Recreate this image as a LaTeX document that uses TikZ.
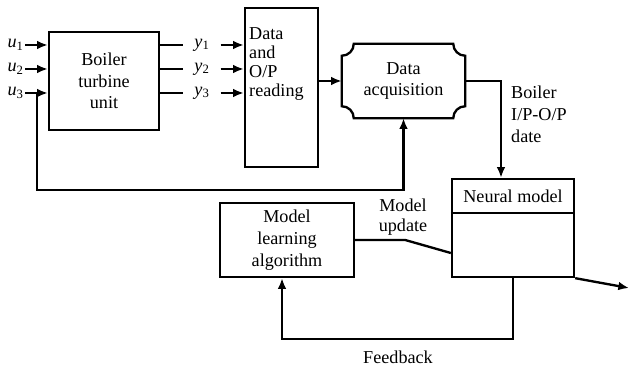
\documentclass[tikz,border=0pt]{standalone}
\usepackage{fontspec}
\setmainfont{Liberation Serif}
\usetikzlibrary{arrows.meta,positioning,calc}

\begin{document}
\begin{tikzpicture}[x=0.3mm,y=0.3mm,
        font=\fontsize{15.5}{18.5}\selectfont,
        >={Latex[length=3.2mm,width=2.6mm]},
        linea/.style={line width=2pt},
        caja/.style={draw,line width=2pt,rectangle,inner sep=0pt,align=center}]
        \useasboundingbox (0,0) rectangle (630,369);

        % bloques
        \node[caja,minimum width=33mm,minimum height=29.4mm] (btu) at (104,288) {Boiler\\turbine\\unit};
        \node[caja,minimum width=21.9mm,minimum height=47.7mm] (dor) at (281.5,281.5) {};
        \node[anchor=north west,align=left,inner sep=0pt,font=\fontsize{15.5}{16.3}\selectfont] (dort) at (249,342) {Data\\and\\O/P\\reading};
        \node[align=center,inner sep=0pt,minimum width=36.9mm,minimum height=22.2mm] (daq) at (403.5,288) {Data\\acquisition};
        \node[caja,minimum width=36.6mm,minimum height=29.4mm] (nm) at (513,141) {};
        \node (nmt) at (513,172.5) {Neural model};
        \node[caja,minimum width=40.2mm,minimum height=22.2mm] (mla) at (287,129) {Model\\learning\\algorithm};

        % contorno con esquinas concavas
        \draw[linea] ($(daq.north west)+(0,-12)$) arc[start angle=270,end angle=360,radius=3.6mm]
            -- ($(daq.north east)+(-12,0)$) arc[start angle=180,end angle=270,radius=3.6mm]
            -- ($(daq.south east)+(0,12)$) arc[start angle=90,end angle=180,radius=3.6mm]
            -- ($(daq.south west)+(12,0)$) arc[start angle=0,end angle=90,radius=3.6mm] -- cycle;
        % division
        \draw[linea] ($(nm.north west)+(0,-35)$) -- ($(nm.north east)+(0,-35)$);

        % entradas y salidas
        \foreach \i/\yy in {1/324,2/300,3/276}{
            \node[anchor=east,inner sep=1pt] (u\i) at (25,\yy) {\textit{u}\textsubscript{\i}};
            \draw[linea,->] (u\i.east) -- (u\i.east -| btu.west);
            \node[inner sep=0pt,minimum width=11.1mm] (y\i) at (202,\yy) {\textit{y}\textsubscript{\i}};
            \draw[linea] (btu.east |- y\i) -- (y\i.west);
            \draw[linea,->] (y\i.east) -- (y\i.east -| dor.west);
        }

        % realimentacion superior
        \coordinate (ret) at (37,276);
        \coordinate (ret1) at (37,179);
        \draw[linea,->] (ret) -- (ret1) -| (daq.south);
        \draw[linea,->] (dor.east |- daq.west) -- (daq.west);
        \draw[linea,->] (daq.east) -| ($(nm.north)+(-12,0)$);
        \node[anchor=north west,align=left,inner sep=0pt] (lbl) at (511,283) {Boiler\\I/P-O/P\\date};

        % actualizacion del modelo
        \draw[linea] (mla.east) -- ++(50,0) coordinate (mu) -- ($(nm.west)+(0,-25)$);
        \node[align=center,inner sep=0pt,font=\fontsize{15.5}{17}\selectfont] (mul) at (403,152) {Model\\update};

        % realimentacion inferior
        \draw[linea,->] (nm.south) -- ++(0,-61) -| ($(mla.south)+(-5,0)$);
        \node (fbl) at (398,12) {Feedback};

        % salida
        \coordinate (sal) at (629,81);
        \draw[linea,->] (nm.south east) -- (sal);
    \end{tikzpicture}
\end{document}
